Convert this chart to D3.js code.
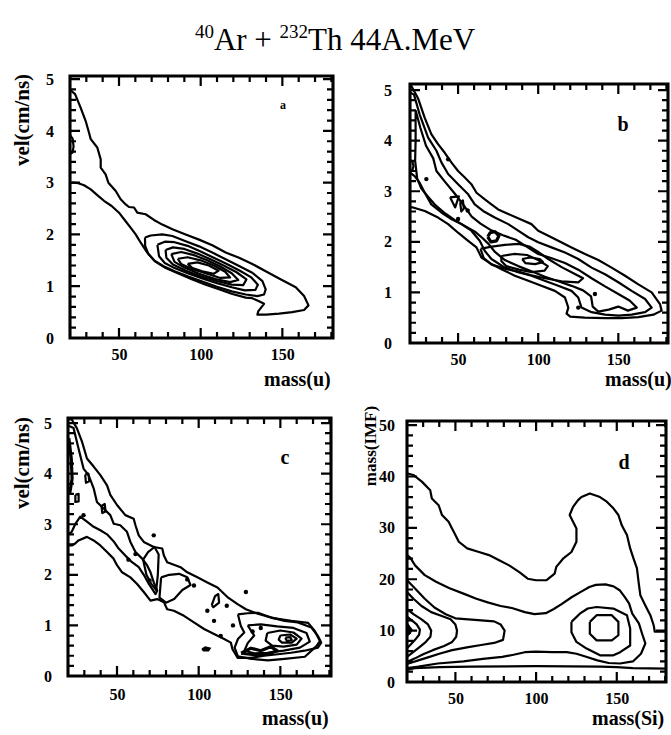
<!DOCTYPE html>
<html lang="en">
<head>
<meta charset="UTF-8">
<title>40Ar + 232Th 44A.MeV</title>
<script src="https://d3js.org/d3.v7.min.js"></script>
<style>
  body { margin: 0; background: #fff; }
  svg text { font-family: "Liberation Serif", "Times New Roman", serif; fill: #000; }
  .tick text { font-weight: bold; font-size: 16px; }
  .contour { fill: none; stroke: #000; stroke-width: 2.2; stroke-linejoin: round; }
  .heavy { stroke-width: 3.2; }
  .blob { fill: #000; stroke: #000; stroke-width: 1.5; }
  .comb { fill: none; stroke: #000; stroke-width: 2.2; stroke-linejoin: miter; }
  .axis-title { font-weight: bold; }
</style>
</head>
<body>
<svg id="chart" width="671" height="735"></svg>
<script>
// ---- tick values ----
var massTicks = [50, 100, 150];
var massMinor = d3.range(20, 181, 10);
var velTicks = [0, 1, 2, 3, 4, 5];
var velMinor = d3.range(0, 5.01, 0.2);
var imfTicks = [0, 10, 20, 30, 40, 50];
var imfMinor = d3.range(0, 50.1, 2);

// ---- panel a : vel vs mass ----
var aLevel1 = [[20.5,4.78],[23.1,4.71],[26.5,4.45],[29.6,4.19],[31.6,3.97],[32.7,3.84],[36.7,3.68],[38.8,3.45],[38.8,3.29],[41.8,3.16],[43.5,3.0],[48,2.84],[51,2.68],[54.1,2.58],[56.1,2.53],[59.2,2.52],[61.2,2.42],[66.3,2.39],[71.4,2.28],[76.5,2.19],[82.7,2.1],[90.8,2.0],[99,1.9],[107.1,1.79],[115.3,1.65],[123.5,1.55],[131.6,1.43],[139.8,1.29],[148,1.15],[158.2,0.98],[163.3,0.81],[166,0.63],[163.3,0.54],[156,0.5],[148,0.47],[140,0.45],[134.7,0.45],[135.3,0.52],[138.8,0.66],[135.7,0.71],[131.6,0.77],[127.6,0.78],[119.4,0.85],[111.2,0.94],[103.1,1.03],[94.9,1.13],[86.7,1.24],[78.6,1.35],[72,1.48],[67.3,1.65],[63.3,1.84],[60.2,2.0],[57.1,2.13],[53.7,2.27],[50,2.42],[45.5,2.55],[40.8,2.65],[36.7,2.76],[32.7,2.87],[28.6,2.95],[25.1,2.99],[21.8,3.0],[20,3.0]];
var aBump = [[20,3.92],[21.6,3.85],[22.2,3.7],[21.5,3.58],[20,3.55]];
var aLevel2 = [[65.9,1.94],[69.4,1.98],[76.5,2.0],[82.7,1.97],[90.8,1.87],[99,1.77],[107.1,1.65],[115.3,1.52],[123.5,1.39],[131.6,1.26],[137.8,1.1],[139.8,0.94],[138.8,0.84],[134.7,0.81],[127.6,0.84],[119,0.9],[110,0.99],[101,1.09],[92,1.19],[84,1.29],[77,1.39],[71.5,1.5],[68,1.62],[66,1.78],[65.9,1.94]];
var aLevel3 = [[73.5,1.8],[78,1.86],[84,1.85],[92,1.78],[100,1.67],[108,1.55],[116,1.43],[124,1.3],[131,1.17],[135,1.03],[133.5,0.93],[127,0.92],[119,0.98],[110,1.06],[101,1.15],[92,1.25],[84,1.35],[78,1.45],[74.5,1.58],[73.5,1.8]];
var aLevel4 = [[78.5,1.7],[83,1.75],[90,1.72],[98,1.63],[106,1.52],[114,1.4],[122,1.27],[128,1.13],[126,1.02],[119,1.03],[110,1.1],[100,1.19],[91,1.3],[83,1.42],[79,1.55],[78.5,1.7]];
var aLevel5 = [[82,1.62],[88,1.66],[96,1.6],[104,1.5],[112,1.38],[119,1.25],[123,1.12],[118,1.08],[109,1.14],[99,1.24],[90,1.36],[84,1.47],[82,1.62]];
var aLevel6 = [[86,1.53],[92,1.56],[100,1.5],[108,1.4],[115,1.28],[118,1.17],[112,1.16],[104,1.24],[95,1.33],[88,1.43],[86,1.53]];
var aLevel7 = [[92,1.43],[98,1.46],[105,1.4],[111,1.3],[108,1.24],[101,1.29],[95,1.35],[92,1.43]];

// ---- panel b : vel vs mass ----
var bLevel1 = [[20.5,5.1],[25,4.84],[29.2,4.45],[33.3,4.13],[37.5,3.93],[41.7,3.76],[45.8,3.57],[50,3.4],[54.2,3.27],[58.3,3.14],[61.5,2.97],[66.7,2.84],[70.8,2.74],[75,2.64],[81.3,2.55],[88.5,2.45],[95.8,2.35],[100,2.22],[106.3,2.12],[112.5,2.02],[120.8,1.89],[129.2,1.76],[137.5,1.64],[145.8,1.49],[154.2,1.33],[162.5,1.16],[170.8,1.0],[176,0.77],[177,0.64],[171.9,0.56],[162.5,0.51],[152,0.49],[141.7,0.49],[129,0.5],[120,0.52],[117.7,0.58],[118.8,0.7],[116.7,0.9],[110.4,1.03],[102,1.13],[93.8,1.23],[85.4,1.33],[77.1,1.46],[70.8,1.56],[64.6,1.69],[61.5,1.89],[56.3,2.02],[50,2.18],[43.8,2.35],[37.5,2.48],[29.2,2.61],[21.9,2.68],[20,2.68]];
var bLevel2 = [[20,4.95],[22.5,4.91],[26,4.52],[31.3,4.06],[36.5,3.8],[39.6,3.57],[43.8,3.34],[50,3.14],[56.3,2.94],[60.4,2.74],[65.6,2.61],[72.9,2.48],[81.3,2.35],[87.5,2.22],[93.8,2.09],[100,1.99],[108.3,1.89],[116.7,1.79],[125,1.66],[133.3,1.49],[141.7,1.36],[150,1.2],[158.3,1.03],[166.7,0.87],[170.8,0.7],[166.7,0.61],[158.3,0.56],[150,0.54],[141.7,0.56],[133.3,0.61],[127,0.7],[125,0.9],[120.8,1.03],[112.5,1.13],[104,1.23],[95.8,1.33],[87.5,1.4],[79.2,1.49],[70.8,1.66],[66.7,1.82],[63.5,2.02],[58.3,2.22],[52,2.35],[45.8,2.45],[39.6,2.58],[33.3,2.74],[29.2,2.97],[26,3.17],[22.9,3.3],[20,3.37]];
var bLevel3 = [[23.5,4.6],[26.5,4.25],[30,3.9],[34.5,3.65],[36.5,3.4],[42,3.18],[48,2.95],[54,2.7],[58.5,2.5],[64,2.36],[70,2.24],[78,2.13],[86,2.04],[93,1.9],[100,1.76],[108,1.68],[116.7,1.58],[125,1.45],[133.3,1.28],[141.7,1.12],[150,0.97],[157,0.84],[161.5,0.7],[156,0.64],[150,0.72],[144,0.66],[137.5,0.62],[134,0.72],[133,0.92],[128,1.04],[120.8,1.13],[112.5,1.22],[104.2,1.31],[95.8,1.42],[87.5,1.52],[79.2,1.64],[73,1.8],[69,1.96],[65,2.08],[60.5,2.2],[55,2.3],[48,2.43],[42,2.56],[36,2.72],[31,2.9],[27,3.06],[24.5,3.25],[23.2,3.6],[23.5,4.0],[23.5,4.6]];
var bLevel4 = [[64,1.86],[70,1.9],[79.2,1.94],[88,1.96],[95,1.9],[100,1.8],[106.3,1.66],[114.6,1.5],[122,1.38],[128,1.28],[125,1.2],[114.6,1.22],[104.2,1.28],[95.8,1.34],[87.5,1.41],[79.2,1.47],[71,1.55],[66,1.68],[64,1.86]];
var bLevel5 = [[77,1.72],[85,1.76],[93,1.74],[100,1.64],[106,1.52],[104,1.43],[96,1.4],[88,1.45],[80,1.52],[77,1.62],[77,1.72]];
var bLevel6 = [[90,1.66],[95,1.69],[101,1.66],[103,1.6],[98,1.56],[92,1.58],[90,1.66]];
var bRing = [[68.5,2.1],[70,2.18],[73,2.2],[75.5,2.12],[74,2.02],[70.5,2.0],[68.5,2.1]];
var bTriangle = [[45,2.88],[50.5,2.9],[48.2,2.68],[45,2.88]];
var bOval = [[51.3,2.78],[53,2.82],[53.6,2.66],[52,2.6],[51.3,2.78]];
var bEdge = [[20,3.62],[21.5,3.58],[22.2,3.5],[21.5,3.42],[20,3.38]];
var bDots = [[30.2,3.24],[43.8,3.63],[50,2.45],[135.4,0.97],[125,0.7],[56,2.62]];

// ---- panel c : vel vs mass ----
var cLevel1 = [[20.5,5.07],[22.3,5.07],[25.4,4.9],[28.5,4.64],[31.6,4.3],[35.7,4.14],[39.8,3.97],[43.9,3.77],[45.9,3.58],[50,3.38],[55.1,3.18],[60.2,3.11],[61.3,2.98],[63.3,2.78],[66.4,2.65],[72.5,2.55],[77.7,2.52],[78.7,2.38],[80.7,2.25],[88.9,2.15],[93,2.05],[99.2,1.95],[105.3,1.85],[111.5,1.75],[117.6,1.56],[123.8,1.42],[128.9,1.32],[136.1,1.23],[144.3,1.16],[152.5,1.09],[160.7,1.06],[168.9,0.96],[173,0.79],[175,0.66],[173,0.56],[164.8,0.5],[156.6,0.46],[148.4,0.43],[140.2,0.4],[132,0.36],[123.8,0.36],[120.7,0.53],[119.7,0.66],[115.6,0.73],[109.4,0.83],[103.3,0.93],[97.1,1.06],[91,1.19],[84.8,1.29],[80.7,1.32],[78.7,1.46],[74.6,1.52],[70.5,1.49],[66.4,1.66],[62.3,1.82],[58.2,1.95],[53.1,2.05],[50,2.19],[47.9,2.32],[43.9,2.45],[39.8,2.58],[35.7,2.68],[31.6,2.75],[26.4,2.68],[24.4,2.62],[22.3,2.58],[20,2.58]];
var cLevel2 = [[20,4.95],[23.4,4.9],[26.4,4.5],[29.5,4.1],[32.6,3.97],[35.7,3.71],[37.7,3.44],[41.8,3.31],[45.9,3.18],[48,3.01],[52,2.98],[56.1,2.85],[58.2,2.65],[61.3,2.45],[65.4,2.32],[68.4,2.19],[70.5,2.05],[72.5,1.85],[74.6,1.69],[73.6,1.62],[69.5,1.82],[66.4,2.0],[63.3,2.15],[59.2,2.25],[55.1,2.38],[51,2.52],[48,2.66],[43.9,2.8],[39.8,2.88],[35.7,2.95],[31.6,3.05],[27.5,3.15],[24.4,3.0],[22.3,2.85],[20,2.8]];
var cLevel3 = [[66,2.3],[69,2.45],[73,2.55],[75.5,2.4],[75,2.0],[74,1.7],[71,1.82],[68,2.0],[66,2.3]];
var cLevel4 = [[77,1.95],[82,2.0],[88,2.02],[93,1.95],[95,1.8],[90,1.7],[85,1.52],[80,1.45],[76,1.55],[77,1.95]];
var cLevel5 = [[124,1.22],[130,1.24],[136.3,1.25],[144.5,1.15],[156.8,1.09],[167,1.05],[171.1,0.89],[174.2,0.69],[172.1,0.59],[165,0.38],[152.7,0.34],[142.4,0.31],[132.2,0.34],[124,0.39],[122,0.56],[124,0.73],[127.9,0.86],[125.8,0.99],[124,1.22]];
var cLevel6 = [[130,1.0],[138,1.02],[148,0.98],[158,0.95],[166,0.85],[168,0.68],[162,0.56],[152,0.5],[142,0.46],[134,0.45],[128,0.5],[130,0.65],[134,0.8],[130,1.0]];
var cLevel7 = [[142,0.85],[150,0.9],[158,0.86],[163,0.74],[160,0.62],[152,0.58],[145,0.6],[141,0.7],[142,0.85]];
var cLevel8 = [[150,0.8],[156,0.82],[160,0.74],[157,0.66],[151,0.66],[149,0.72],[150,0.8]];
var cLevel9 = [[153,0.76],[156,0.77],[157,0.71],[154,0.69],[153,0.76]];
var cLevel10 = [[126,0.45],[132,0.55],[138,0.5],[144,0.58],[148,0.5],[142,0.43],[134,0.42],[126,0.45]];
var cRing1 = [[30.5,3.98],[32.5,4.0],[33,3.85],[31,3.82],[30.5,3.98]];
var cRing2 = [[40.5,3.36],[42.5,3.4],[43,3.25],[41,3.22],[40.5,3.36]];
var cRing3 = [[24.5,3.58],[26.5,3.6],[26.5,3.45],[24.5,3.44],[24.5,3.58]];
var cLoop = [[108,1.4],[110,1.58],[112,1.62],[112.5,1.45],[109,1.36],[108,1.4]];
var cEdge = [[20.5,4.7],[22,4.3],[22.5,3.9],[21,3.6]];
var cBlob = [[102,0.53],[104,0.57],[107,0.55],[106,0.5],[103,0.5],[102,0.53]];
var cDots = [[72.5,2.78],[61.3,2.41],[69.9,1.89],[93,1.91],[97.1,1.79],[128.9,1.66],[117.2,1.39],[105.3,1.29],[109.4,1.09],[113.5,0.79],[29.5,3.18],[57,2.3],[121,1.0],[133,0.88],[138,0.95]];

// ---- panel d : mass(IMF) vs mass(Si) ----
var dLevel1 = [[20,40.6],[23.9,40.3],[29.2,39.0],[34.4,37.3],[35.4,35.7],[39.6,34.4],[41.7,32.5],[45.8,31.2],[47.9,29.9],[50,28.6],[52.1,27.3],[57.3,26.0],[64.6,25.3],[70.8,24.7],[77.1,23.7],[83.3,22.7],[89.6,21.4],[94.8,20.1],[100,19.8],[106.3,19.8],[111.5,21.1],[112.5,22.4],[116.7,24.0],[121.9,25.3],[125,27.3],[125,29.9],[122.9,31.2],[120.8,32.5],[122.9,34.1],[126,35.4],[128.1,36.0],[133.3,36.7],[139.6,36.0],[143.8,35.1],[147.9,33.8],[151,32.5],[153.1,30.5],[156.3,28.6],[158.3,26.0],[160.4,24.0],[162.5,22.1],[163.5,19.5],[164.6,16.9],[167.7,14.9],[170.8,13.0],[172.9,11.0],[173.5,9.8],[180.5,9.8]];
var dLevel1Low = [[20,2.4],[25,2.7],[40,2.9],[60,3.0],[100,3.1],[140,3.0],[150,2.9],[160,2.7],[180.5,2.6]];
var dLevel2 = [[20,24.7],[22,24.2],[25,22.7],[31,20.8],[38,19.5],[46,18.3],[55,17.2],[63,16.2],[70,15.5],[78,14.8],[85,14.4],[93,13.6],[99,13.2],[106,13.4],[111,14.2],[116,15.2],[122,16.5],[128,17.6],[133,18.5],[137,18.9],[143,19.0],[148,18.6],[152,17.8],[155,16.5],[157.6,15.3],[159.6,13.3],[163.7,11.4],[165.7,9.4],[167.7,7.5],[165,5.5],[160,4.0],[152,3.6],[145,3.7],[138,4.2],[131,4.9],[125,5.5],[119,5.8],[110,5.8],[100,5.9],[93,5.8],[86,5.3],[79,4.9],[67,4.5],[55,4.0],[39,3.6],[27,3.0],[20,2.7]];
var dLobe1 = [[20,19.8],[25,18.2],[31,16.2],[37,14.5],[44,13.2],[50,12.4],[58,12.2],[66,12.0],[74,11.8],[78,11.2],[80.5,10.0],[79.5,8.2],[74,7.6],[66,7.2],[58,6.8],[48,6.2],[40,5.5],[33,4.8],[27,4.2],[22,3.7],[20,3.5]];
var dLobe2 = [[20,17.5],[24,16.2],[29,14.8],[35,13.6],[42,12.8],[47,12.2],[50,11.2],[51,10.0],[50.5,8.8],[48,7.8],[43,7.0],[36,6.2],[30,5.4],[25,4.6],[20,3.9]];
var dLobe3 = [[20,14.2],[24,13.2],[29,12.2],[33,11.2],[35,10.0],[34.5,8.8],[31,7.6],[27,6.6],[23,5.6],[20,4.9]];
var dLobe4 = [[20,12.7],[23,12.0],[26,11.2],[28,10.2],[27.5,9.2],[25,8.2],[22,7.2],[20,6.6]];
var dLobe5 = [[20,11.5],[21.5,10.8],[23,10.2],[22,9.5],[20,9.0],[20,11.5]];
var dPeak1 = [[121.9,11.7],[127.1,13.3],[132,14.3],[137.5,14.6],[147.9,14.3],[156.3,13.0],[158.3,10.4],[158.3,7.1],[152.1,5.8],[147.9,5.2],[139.6,5.2],[131.3,6.5],[125,7.8],[121.9,9.7],[121.9,11.7]];
var dPeak2 = [[133.3,11.7],[137.5,13.0],[146.9,13.0],[151,11.7],[151,9.1],[146.9,8.1],[137.5,8.1],[133.3,9.4],[133.3,11.7]];

var svg = d3.select('#chart');

var panels = [
  { id: 'a', left: 70, right: 333, top: 76, bottom: 338, xDomain: [20, 181], yDomain: [0, 5.06],
    yTicks: velTicks, yMinor: velMinor, yPad: 16, xPad: 11,
    lines: [aLevel1, aBump, aLevel2, aLevel3, aLevel4, aLevel5, aLevel6, aLevel7],
    heavy: [], blobs: [], dots: [],
    letter: { text: 'a', x: 283, y: 109, size: 12 } },
  { id: 'b', left: 410, right: 668, top: 84, bottom: 343, xDomain: [20, 181], yDomain: [0, 5.12],
    yTicks: velTicks, yMinor: velMinor, yPad: 18, xPad: 11,
    lines: [bLevel1, bLevel2, bLevel3, bLevel4, bLevel5, bLevel6, bTriangle, bOval, bEdge],
    heavy: [bRing], blobs: [], dots: bDots,
    letter: { text: 'b', x: 623, y: 131, size: 20 } },
  { id: 'c', left: 68, right: 331, top: 418, bottom: 676, xDomain: [20, 181], yDomain: [0, 5.1],
    yTicks: velTicks, yMinor: velMinor, yPad: 16, xPad: 13,
    lines: [cLevel1, cLevel2, cLevel3, cLevel4, cLevel5, cLevel6, cLevel7, cLevel8, cLevel9, cRing1, cRing2, cRing3, cLoop],
    heavy: [cLevel10, cEdge], blobs: [cBlob], dots: cDots,
    letter: { text: 'c', x: 285, y: 464, size: 20 } },
  { id: 'd', left: 407, right: 666, top: 421, bottom: 682, xDomain: [20, 180.5], yDomain: [0, 50.8],
    yTicks: imfTicks, yMinor: imfMinor, yPad: 12, xPad: 11,
    lines: [dLevel1, dLevel1Low, dLevel2, dLobe1, dLobe2, dLobe3, dLobe4, dPeak1, dPeak2],
    heavy: [], blobs: [dLobe5], dots: [],
    letter: { text: 'd', x: 624, y: 469, size: 20 } }
];

panels.forEach(function (p) {
  var x = d3.scaleLinear().domain(p.xDomain).range([p.left, p.right]);
  var y = d3.scaleLinear().domain(p.yDomain).range([p.bottom, p.top]);
  var line = d3.line().x(function (d) { return x(d[0]); }).y(function (d) { return y(d[1]); });

  svg.append('clipPath').attr('id', 'clip-' + p.id)
    .append('rect')
    .attr('x', p.left).attr('y', p.top)
    .attr('width', p.right - p.left).attr('height', p.bottom - p.top);

  var g = svg.append('g').attr('clip-path', 'url(#clip-' + p.id + ')');

  g.selectAll('path.contour')
    .data(p.lines)
    .enter()
    .append('path')
    .attr('class', 'contour')
    .attr('d', line);

  g.selectAll('path.heavy')
    .data(p.heavy)
    .enter()
    .append('path')
    .attr('class', 'contour heavy')
    .attr('d', line);

  g.selectAll('path.blob')
    .data(p.blobs)
    .enter()
    .append('path')
    .attr('class', 'blob')
    .attr('d', line);

  g.selectAll('circle')
    .data(p.dots)
    .enter()
    .append('circle')
    .attr('cx', function (d) { return x(d[0]); })
    .attr('cy', function (d) { return y(d[1]); })
    .attr('r', 2.2)
    .attr('fill', '#000');

  // frame drawn as one continuous "comb" outline: each side walks along the
  // edge and steps inward and back out at every tick position
  function isMajor(list, v) {
    return list.some(function (t) { return Math.abs(t - v) < 1e-6; });
  }
  var pts = [];
  // bottom, left to right (ticks point up)
  pts.push([p.left, p.bottom]);
  massMinor.forEach(function (v) {
    var len = isMajor(massTicks, v) ? 10 : 6;
    var px = x(v);
    pts.push([px, p.bottom], [px, p.bottom - len], [px, p.bottom]);
  });
  pts.push([p.right, p.bottom]);
  // right, bottom to top (ticks point left)
  p.yMinor.forEach(function (v) {
    var len = isMajor(p.yTicks, v) ? 10 : 6;
    var py = y(v);
    pts.push([p.right, py], [p.right - len, py], [p.right, py]);
  });
  pts.push([p.right, p.top]);
  // top, right to left (ticks point down)
  massMinor.slice().reverse().forEach(function (v) {
    var len = isMajor(massTicks, v) ? 10 : 6;
    var px = x(v);
    pts.push([px, p.top], [px, p.top + len], [px, p.top]);
  });
  pts.push([p.left, p.top]);
  // left, top to bottom (ticks point right)
  p.yMinor.slice().reverse().forEach(function (v) {
    var len = isMajor(p.yTicks, v) ? 10 : 6;
    var py = y(v);
    pts.push([p.left, py], [p.left + len, py], [p.left, py]);
  });
  pts.push([p.left, p.bottom]);

  svg.append('path')
    .attr('class', 'comb')
    .attr('d', d3.line()(pts));

  // thicker plain frame on top of the comb
  svg.append('rect')
    .attr('x', p.left).attr('y', p.top)
    .attr('width', p.right - p.left).attr('height', p.bottom - p.top)
    .attr('fill', 'none').attr('stroke', '#000').attr('stroke-width', 3);

  function clean(sel) {
    sel.select('.domain').remove();
    sel.selectAll('.tick line').remove();
    sel.attr('font-size', null).attr('font-family', null);
  }

  svg.append('g').attr('transform', 'translate(0,' + p.bottom + ')')
    .call(d3.axisBottom(x).tickValues(massTicks).tickSize(0).tickPadding(p.xPad).tickFormat(d3.format('d')))
    .call(clean);
  svg.append('g').attr('transform', 'translate(' + p.left + ',0)')
    .call(d3.axisLeft(y).tickValues(p.yTicks).tickSize(0).tickPadding(p.yPad).tickFormat(d3.format('d')))
    .call(clean);

  svg.append('text')
    .attr('x', p.letter.x).attr('y', p.letter.y)
    .attr('text-anchor', 'middle')
    .attr('font-weight', 'bold')
    .attr('font-size', p.letter.size)
    .text(p.letter.text);
});

// title
var title = svg.append('text')
  .attr('x', 335).attr('y', 50)
  .attr('text-anchor', 'middle')
  .attr('font-size', 31);
title.append('tspan').attr('font-size', 19).attr('dy', -12).text('40');
title.append('tspan').attr('dy', 12).text('Ar + ');
title.append('tspan').attr('font-size', 19).attr('dy', -12).text('232');
title.append('tspan').attr('dy', 12).text('Th 44A.MeV');

// axis titles
function rotated(text, cx, cy, size) {
  svg.append('text')
    .attr('class', 'axis-title')
    .attr('transform', 'translate(' + cx + ',' + cy + ') rotate(-90)')
    .attr('text-anchor', 'middle')
    .attr('font-size', size)
    .text(text);
}
rotated('vel(cm/ns)', 29, 120, 21);
rotated('vel(cm/ns)', 29, 463, 21);
rotated('mass(IMF)', 376, 446, 17);

function flat(text, x, y) {
  svg.append('text')
    .attr('class', 'axis-title')
    .attr('x', x).attr('y', y)
    .attr('font-size', 20)
    .text(text);
}
flat('mass(u)', 264, 386);
flat('mass(u)', 605, 386);
flat('mass(u)', 262, 725);
flat('mass(Si)', 592, 725);
</script>
</body>
</html>
